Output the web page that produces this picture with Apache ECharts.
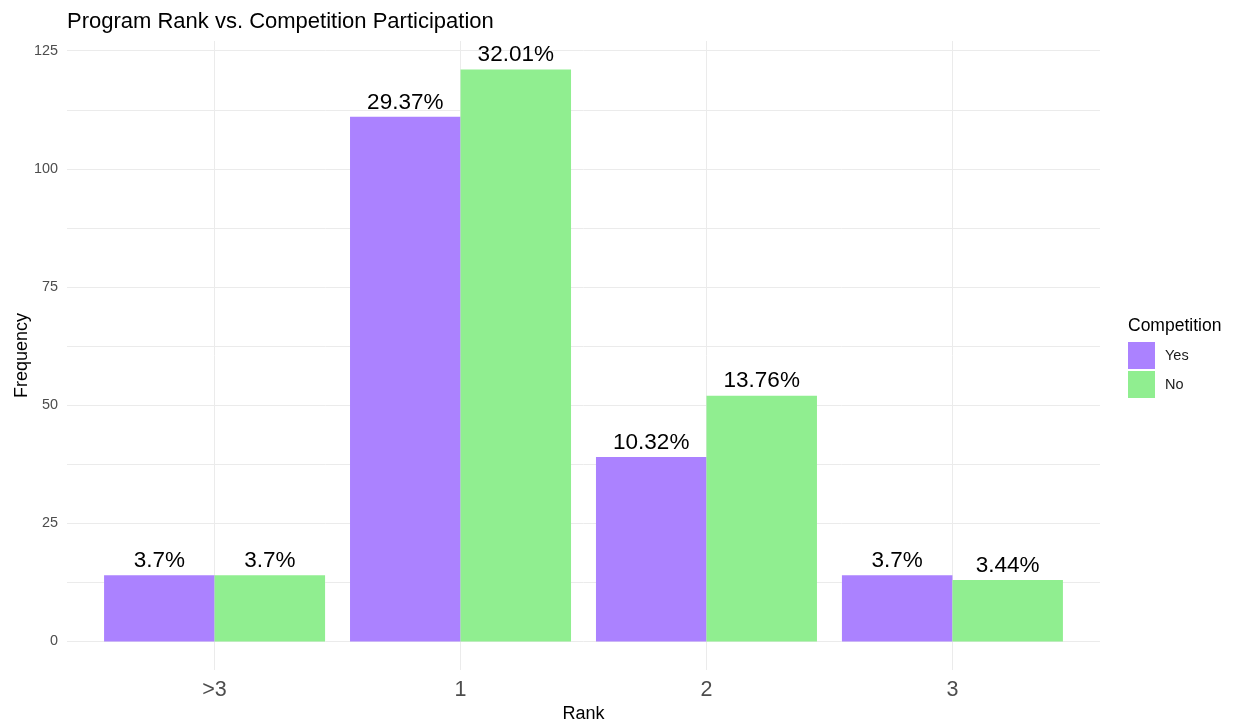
<!DOCTYPE html>
<html>
<head>
<meta charset="utf-8">
<title>Program Rank vs. Competition Participation</title>
<script src="https://cdn.jsdelivr.net/npm/echarts@6/dist/echarts.min.js"></script>
<style>
  html, body { margin: 0; padding: 0; background: #fff; }
  #chart { width: 1239px; height: 725px; }
</style>
</head>
<body>
<div id="chart"></div>
<script>
const ranks = ['>3', '1', '2', '3']
const yesCounts = [14, 111, 39, 14]
const noCounts = [14, 121, 52, 13]
const yesPct = ['3.7%', '29.37%', '10.32%', '3.7%']
const noPct = ['3.7%', '32.01%', '13.76%', '3.44%']
const yTicks = [0, 25, 50, 75, 100, 125]
const yGrid = [0, 12.5, 25, 37.5, 50, 62.5, 75, 87.5, 100, 112.5, 125]

const font = 'Liberation Sans, Arial, sans-serif'
const positions = ranks.map((_, i) => i + 1)

function toPoints(vals) {
  return vals.map((v, i) => [positions[i], v])
}

const chart = echarts.init(document.getElementById('chart'))
chart.setOption({
  animation: false,
  textStyle: { fontFamily: font },
  title: [
    {
      text: 'Program Rank vs. Competition Participation',
      left: 67, top: 11, padding: 0,
      textStyle: { fontFamily: font, fontSize: 22, fontWeight: 'normal', color: '#000' }
    },
    {
      text: 'Competition',
      left: 1128, top: 317, padding: 0,
      textStyle: { fontFamily: font, fontSize: 17.5, fontWeight: 'normal', color: '#000' }
    }
  ],
  legend: {
    orient: 'vertical',
    left: 1128, top: 342,
    itemWidth: 27, itemHeight: 27, itemGap: 2,
    icon: 'rect',
    padding: 0,
    textStyle: { fontFamily: font, fontSize: 14.5, color: '#1a1a1a', padding: [0, 0, 0, 5] },
    data: ['Yes', 'No']
  },
  grid: { left: 67, right: 139, top: 41, bottom: 55, outerBoundsMode: 'none', containLabel: false },
  xAxis: {
    type: 'value',
    min: 0.4, max: 4.6,
    name: 'Rank',
    nameLocation: 'middle',
    nameGap: 35,
    nameMoveOverlap: false,
    nameTextStyle: { fontFamily: font, fontSize: 18, color: '#000' },
    axisLine: { show: false },
    axisTick: { show: false, customValues: positions },
    axisLabel: {
      customValues: positions,
      margin: 9,
      fontFamily: font, fontSize: 21.5, color: '#4d4d4d',
      formatter: v => ranks[Math.round(v) - 1] || ''
    },
    splitLine: { show: true, lineStyle: { color: '#ebebeb', width: 1 } }
  },
  yAxis: {
    type: 'value',
    min: -6.05, max: 127.05,
    name: 'Frequency',
    nameLocation: 'middle',
    nameGap: 36,
    nameMoveOverlap: false,
    nameTextStyle: { fontFamily: font, fontSize: 18, color: '#000' },
    axisLine: { show: false },
    axisTick: { show: false, customValues: yGrid },
    axisLabel: {
      customValues: yTicks,
      margin: 9,
      fontFamily: font, fontSize: 14.4, color: '#4d4d4d'
    },
    splitLine: { show: true, lineStyle: { color: '#ebebeb', width: 1 } }
  },
  series: [
    {
      name: 'Yes', type: 'bar',
      data: toPoints(yesCounts),
      barWidth: 110.5, barGap: '0%',
      itemStyle: { color: '#AB82FF' },
      label: {
        show: true, position: 'top', distance: 3,
        fontFamily: font, fontSize: 22.5, color: '#000',
        formatter: p => yesPct[p.dataIndex]
      }
    },
    {
      name: 'No', type: 'bar',
      data: toPoints(noCounts),
      barWidth: 110.5, barGap: '0%',
      itemStyle: { color: '#90EE90' },
      label: {
        show: true, position: 'top', distance: 3,
        fontFamily: font, fontSize: 22.5, color: '#000',
        formatter: p => noPct[p.dataIndex]
      }
    }
  ]
})
</script>
</body>
</html>
